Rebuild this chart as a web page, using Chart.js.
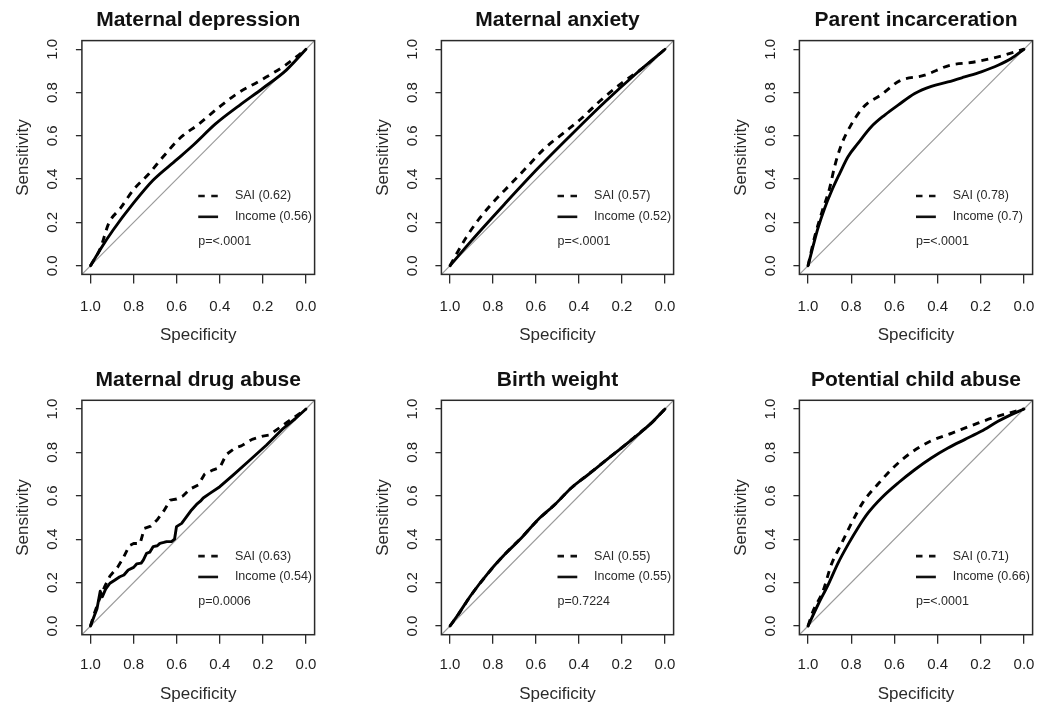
<!DOCTYPE html>
<html>
<head>
<meta charset="utf-8">
<script src="https://cdn.jsdelivr.net/npm/chart.js@4.4.1/dist/chart.umd.min.js"></script>
<style>
  html, body { margin: 0; padding: 0; background: #fff; }
  #fig { position: relative; width: 1042px; height: 706px; overflow: hidden; background: #fff; }
  .panel { position: absolute; width: 347px; height: 353px; }
</style>
</head>
<body>
<div id="fig"></div>
<script>
// ---- Panel titles, AUC labels and p-values ----
const titles = ['Maternal depression', 'Maternal anxiety', 'Parent incarceration',
                'Maternal drug abuse', 'Birth weight', 'Potential child abuse'];
const saiAuc    = ['0.62', '0.57', '0.78', '0.63', '0.55', '0.71'];
const incomeAuc = ['0.56', '0.52', '0.7', '0.54', '0.55', '0.66'];
const pValues   = ['<.0001', '<.0001', '<.0001', '0.0006', '0.7224', '<.0001'];

// ---- Axis ticks (shared by both axes) ----
const axisTicks = [0, 0.2, 0.4, 0.6, 0.8, 1];
const axisTickLabels = ['0.0', '0.2', '0.4', '0.6', '0.8', '1.0'];

// ---- ROC curves: specificity / sensitivity pairs ----
// Maternal depression
const saiSpec1 = [1, .954, .915, .861, .799, .730, .660, .583, .498, .406, .318, .210, .102, 0];
const saiSens1 = [0, .081, .197, .266, .353, .424, .507, .591, .654, .730, .796, .857, .922, 1];
const incSpec1 = [1, .957, .895, .80, .71, .60, .52, .42, .31, .20, .09, 0];
const incSens1 = [0, .072, .165, .29, .395, .49, .56, .655, .74, .82, .905, 1];

// Maternal anxiety
const saiSpec2 = [1, .963, .924, .862, .792, .722, .640, .560, .474, .389, .304, .203, .107, 0];
const saiSens2 = [0, .066, .132, .220, .301, .373, .458, .542, .611, .680, .760, .842, .911, 1];
const incSpec2 = [1, .901, .746, .591, .436, .281, .126, 0];
const incSens2 = [0, .115, .285, .45, .605, .755, .895, 1];

// Parent incarceration
const saiSpec3 = [1, .969, .935, .900, .877, .846, .804, .742, .657, .576, .460, .344, .236, .120, 0];
const saiSens3 = [0, .135, .250, .358, .458, .558, .645, .734, .793, .854, .880, .926, .940, .965, 1];
const incSpec3 = [1, .977, .954, .923, .892, .853, .815, .769, .707, .645, .583, .506, .429, .352, .275, .198, .120, .059, 0];
const incSens3 = [0, .089, .174, .266, .343, .427, .504, .565, .642, .696, .742, .796, .829, .849, .872, .896, .926, .957, 1];

// Maternal drug abuse
const saiSpec4 = [1, .985, .96, .935, .91, .875, .85, .82, .80, .77, .75, .72, .69, .66, .63, .60, .57, .54, .50, .47,
                  .43, .40, .37, .33, .30, .25, .20, .17, .10, .05, 0];
const saiSens4 = [0, .05, .12, .18, .23, .27, .31, .37, .38, .38, .45, .46, .49, .53, .58, .585, .60, .63, .65, .70,
                  .72, .73, .79, .82, .83, .86, .875, .88, .93, .965, 1];
const incSpec4 = [1, .985, .97, .955, .945, .93, .91, .89, .864, .845, .825, .80, .786, .765, .755, .74, .725, .709, .69, .678,
                  .66, .647, .624, .61, .601, .59, .577, .554, .531, .508, .49, .477, .446, .40, .337, .26, .183, .105, .05, 0];
const incSens4 = [0, .04, .08, .16, .135, .17, .197, .21, .227, .235, .258, .27, .286, .29, .304, .335, .34, .366, .37, .381,
                  .385, .389, .389, .40, .458, .465, .473, .504, .535, .56, .575, .59, .611, .642, .696, .765, .834, .911, .955, 1];

// Birth weight
const saiSpec5 = [1, .96, .90, .82, .745, .665, .59, .51, .435, .355, .28, .20, .125, .06, 0];
const saiSens5 = [0, .055, .145, .246, .331, .41, .49, .562, .637, .70, .76, .822, .884, .938, 1];
const incSpec5 = [1, .963, .901, .823, .746, .668, .591, .513, .436, .358, .281, .203, .126, .064, 0];
const incSens5 = [0, .052, .144, .244, .329, .406, .490, .559, .636, .697, .759, .820, .882, .935, 1];

// Potential child abuse
const saiSpec6 = [1, .977, .931, .892, .849, .796, .745, .676, .602, .525, .434, .333, .231, .136, 0];
const saiSens6 = [0, .068, .160, .283, .372, .479, .571, .654, .733, .797, .851, .889, .928, .962, 1];
const incSpec6 = [1, .954, .907, .861, .815, .769, .722, .660, .583, .506, .429, .352, .275, .198, .120, .059, 0];
const incSens6 = [0, .098, .190, .290, .375, .452, .521, .590, .659, .720, .774, .820, .859, .897, .943, .974, 1];

const saiCurves = [[saiSpec1, saiSens1], [saiSpec2, saiSens2], [saiSpec3, saiSens3],
                   [saiSpec4, saiSens4], [saiSpec5, saiSens5], [saiSpec6, saiSens6]];
const incCurves = [[incSpec1, incSens1], [incSpec2, incSens2], [incSpec3, incSens3],
                   [incSpec4, incSens4], [incSpec5, incSens5], [incSpec6, incSens6]];
const smoothCurve = [true, true, true, false, true, true];

// ---- Layout (pixels) ----
const FONT = "'Liberation Sans', Arial, Helvetica, sans-serif";
const PANEL_W = 347, PANEL_H = 353;
const boxLeft  = [81.9, 441.4, 799.4];     // plot box edges on the page, per column
const boxRight = [314.6, 673.6, 1032.6];
const boxTop    = [40.6, 400.3];           // per row
const boxBottom = [274.4, 634.7];
const xTitleGap = [61.3, 60];              // box bottom -> centre of "Specificity"
const xTickPad  = [14.3, 12.5];
const yTitleGap = 58.5;                    // box left -> centre of "Sensitivity"
const LAB_SIZE = 17, TICK_SIZE = 15, TITLE_SIZE = 21;

Chart.defaults.font.family = FONT;

const toPoints = (xs, ys) => xs.map((v, i) => ({ x: v, y: ys[i] }));

// Plot frame plus in-plot key and p-value
const panelDecor = {
  id: 'panelDecor',
  afterDatasetsDraw(chart, args, opts) {
    const { ctx, chartArea: a, scales: { x, y } } = chart;
    ctx.save();
    ctx.strokeStyle = '#2a2a2a';
    ctx.lineWidth = 1.5;
    ctx.setLineDash([]);
    ctx.strokeRect(a.left, a.top, a.right - a.left, a.bottom - a.top);

    const xs0 = x.getPixelForValue(0.5), xs1 = x.getPixelForValue(0.408), xt = x.getPixelForValue(0.33);
    const y1 = y.getPixelForValue(0.322), y2 = y.getPixelForValue(0.226), y3 = y.getPixelForValue(0.114);
    ctx.strokeStyle = '#111';
    ctx.lineWidth = 2.6;
    ctx.setLineDash([6.5, 6.5]);
    ctx.beginPath(); ctx.moveTo(xs0, y1); ctx.lineTo(xs1, y1); ctx.stroke();
    ctx.setLineDash([]);
    ctx.beginPath(); ctx.moveTo(xs0, y2); ctx.lineTo(xs1, y2); ctx.stroke();

    ctx.fillStyle = '#2a2a2a';
    ctx.font = '12.5px ' + FONT;
    ctx.textBaseline = 'middle';
    ctx.textAlign = 'left';
    ctx.fillText(opts.sai, xt, y1);
    ctx.fillText(opts.income, xt, y2);
    ctx.fillText(opts.p, xs0, y3);
    ctx.restore();
  }
};

const fig = document.getElementById('fig');

titles.forEach((title, k) => {
  const row = Math.floor(k / 3), col = k % 3;
  const div = document.createElement('div');
  div.className = 'panel';
  div.style.left = (col * PANEL_W) + 'px';
  div.style.top = (row * PANEL_H) + 'px';
  const canvas = document.createElement('canvas');
  div.appendChild(canvas);
  fig.appendChild(div);

  const bL = boxLeft[col] - col * PANEL_W, bR = boxRight[col] - col * PANEL_W;
  const bT = boxTop[row] - row * PANEL_H, bB = boxBottom[row] - row * PANEL_H;
  const labHalf = LAB_SIZE * 1.2 / 2;
  const yAxisW = yTitleGap + labHalf;
  const xAxisH = xTitleGap[row] + labHalf;
  const titleLine = TITLE_SIZE * 1.2;
  const titleCentre = bT - 20;

  const tickLabel = (v) => {
    const i = axisTicks.findIndex(t => Math.abs(t - v) < 1e-9);
    return i >= 0 ? axisTickLabels[i] : '';
  };
  const setTicks = (scale) => { scale.ticks = axisTicks.map(v => ({ value: v })); };

  const [sSpec, sSens] = saiCurves[k];
  const [iSpec, iSens] = incCurves[k];
  const smooth = smoothCurve[k] ? 'monotone' : 'default';

  new Chart(canvas, {
    type: 'line',
    data: {
      datasets: [
        {
          label: 'Income', data: toPoints(iSpec, iSens), order: 0,
          borderColor: '#000', borderWidth: 2.9, pointRadius: 0, fill: false,
          tension: 0, cubicInterpolationMode: smooth, borderJoinStyle: 'round', borderCapStyle: 'round'
        },
        {
          label: 'SAI', data: toPoints(sSpec, sSens), order: 1,
          borderColor: '#000', borderWidth: 2.9, borderDash: [7, 6], pointRadius: 0, fill: false,
          tension: 0, cubicInterpolationMode: smooth, borderJoinStyle: 'round'
        },
        {
          label: 'Chance', data: [{ x: 1.04, y: -0.04 }, { x: -0.04, y: 1.04 }], order: 2,
          borderColor: '#9a9a9a', borderWidth: 1.2, pointRadius: 0, fill: false, tension: 0
        }
      ]
    },
    options: {
      responsive: true,
      maintainAspectRatio: false,
      animation: false,
      events: [],
      layout: {
        padding: { left: bL - yAxisW, right: PANEL_W - bR, top: 0, bottom: PANEL_H - bB - xAxisH }
      },
      plugins: {
        legend: { display: false },
        tooltip: { enabled: false },
        title: {
          display: true, text: title, fullSize: false, color: '#111',
          font: { size: TITLE_SIZE, weight: 'bold', family: FONT },
          padding: { top: titleCentre - titleLine / 2, bottom: bT - titleCentre - titleLine / 2 }
        },
        panelDecor: {
          sai: 'SAI (' + saiAuc[k] + ')',
          income: 'Income (' + incomeAuc[k] + ')',
          p: 'p=' + pValues[k]
        }
      },
      scales: {
        x: {
          type: 'linear', reverse: true, min: -0.04, max: 1.04, bounds: 'data',
          afterBuildTicks: setTicks,
          afterFit: (s) => { s.height = xAxisH; },
          ticks: {
            callback: tickLabel, autoSkip: false, maxRotation: 0, minRotation: 0,
            color: '#1e1e1e', padding: xTickPad[row], font: { size: TICK_SIZE, family: FONT }
          },
          grid: { drawOnChartArea: false, drawTicks: true, tickLength: 9, color: '#2a2a2a', lineWidth: 1.3 },
          border: { display: false },
          title: { display: true, text: 'Specificity', color: '#2a2a2a', padding: 0, font: { size: LAB_SIZE, family: FONT } }
        },
        y: {
          type: 'linear', min: -0.04, max: 1.04, bounds: 'data',
          afterBuildTicks: setTicks,
          afterFit: (s) => { s.width = yAxisW; },
          ticks: {
            callback: tickLabel, autoSkip: false, minRotation: 90, maxRotation: 90, crossAlign: 'center',
            color: '#1e1e1e', padding: 12.4, font: { size: TICK_SIZE, family: FONT }
          },
          grid: { drawOnChartArea: false, drawTicks: true, tickLength: 6, color: '#2a2a2a', lineWidth: 1.3 },
          border: { display: false },
          title: { display: true, text: 'Sensitivity', color: '#2a2a2a', padding: 0, font: { size: LAB_SIZE, family: FONT } }
        }
      }
    },
    plugins: [panelDecor]
  });
});
</script>
</body>
</html>
